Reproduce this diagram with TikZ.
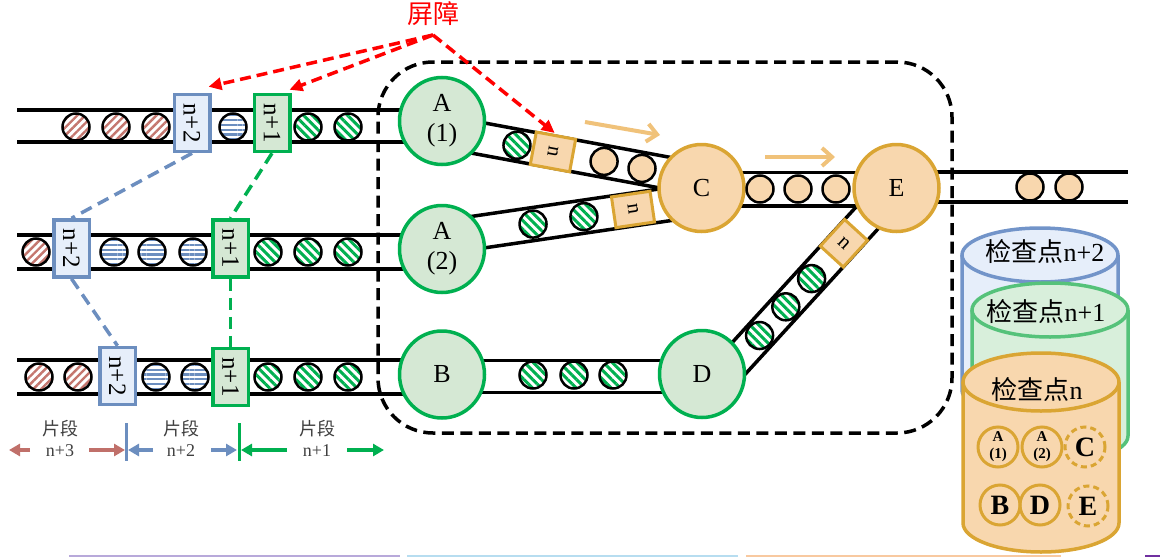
\documentclass[tikz,border=0pt]{standalone}
\usepackage{fontspec}
\setmainfont{Liberation Serif}
\newfontfamily\cjk{Noto Sans CJK SC}
\usepackage{graphicx}
\usetikzlibrary{calc,arrows.meta,patterns.meta,shapes.geometric}
\pgfdeclarelayer{bg}
\pgfsetlayers{bg,main}

\definecolor{cgreen}{HTML}{00B050}
\definecolor{lgreen}{HTML}{D5E8D4}
\definecolor{cblue}{HTML}{6C8EBF}
\definecolor{lblue}{HTML}{E6EEFA}
\definecolor{corange}{HTML}{DAA533}
\definecolor{lorange}{HTML}{F8D7AE}
\definecolor{cred}{HTML}{C0706A}
\definecolor{ballred}{HTML}{C4766E}
\definecolor{arrowor}{HTML}{F0C27A}
\definecolor{cylgreen}{HTML}{55C27A}
\definecolor{cylgfill}{HTML}{D8EFDB}
\definecolor{cylblue}{HTML}{7294C9}
\definecolor{txtgray}{HTML}{404040}
\definecolor{stripP}{HTML}{B8A9DA}
\definecolor{stripB}{HTML}{B7DDF0}
\definecolor{stripO}{HTML}{F8C9A0}
\definecolor{stripD}{HTML}{7030A0}

\newcommand\setfs[2]{\fontsize{#1}{#2}\selectfont}
\newcommand\mytrack[3]{%
  \draw[track] ($(#1)!#3!90:(#2)$) -- ($(#2)!#3!-90:(#1)$);
  \draw[track] ($(#1)!#3!-90:(#2)$) -- ($(#2)!#3!90:(#1)$);}
\newcommand\mycyl[7]{%
  \fill[#7] (#1-#4,#2) -- (#1-#4,#3) arc[start angle=180,end angle=360,x radius=#4,y radius=#5] -- (#1+#4,#2) -- cycle;
  \fill[#7] (#1,#2) ellipse[x radius=#4,y radius=#5];
  \draw[#6,line width=3.5pt] (#1-#4,#2) -- (#1-#4,#3) arc[start angle=180,end angle=360,x radius=#4,y radius=#5] -- (#1+#4,#2);
  \draw[#6,line width=3.5pt] (#1,#2) ellipse[x radius=#4,y radius=#5];}

\tikzset{
  track/.style={line width=3.5pt,black},
  ball/.style={circle,draw=black,line width=2.5pt,minimum size=27pt,inner sep=0pt},
  ballR/.style={ball,preaction={fill=white},pattern={Lines[angle=45,distance=5.6pt,line width=2.4pt]},pattern color=ballred},
  ballB/.style={ball,preaction={fill=white},pattern={Lines[angle=0,distance=4.8pt,line width=2.2pt]},pattern color=cblue},
  ballG/.style={ball,preaction={fill=white},pattern={Lines[angle=-45,distance=6.2pt,line width=3pt]},pattern color=cgreen},
  ballO/.style={ball,fill=lorange},
  gnode/.style={ellipse,draw=cgreen,fill=lgreen,line width=3.5pt,minimum width=85pt,minimum height=87pt,inner sep=0pt,align=center,font=\setfs{26}{30}},
  onode/.style={gnode,draw=corange,fill=lorange},
  bbox/.style={rectangle,draw=cblue,fill=lblue,line width=3.5pt,minimum width=35.5pt,minimum height=57pt,inner sep=0pt,font=\setfs{25}{25}},
  gbox/.style={bbox,draw=cgreen,fill=lgreen},
  obox/.style={rectangle,draw=corange,fill=lorange,line width=3pt,inner sep=0pt,font=\setfs{21}{21},sloped},
  bconn/.style={cblue,line width=3.5pt,dash pattern=on 12pt off 7pt},
  gconn/.style={cgreen,line width=3.5pt,dash pattern=on 12pt off 7pt},
  redarrow/.style={red,line width=3.5pt,dash pattern=on 11pt off 6pt,-{Triangle[length=13pt,width=12pt]}},
  oarrow/.style={arrowor,line width=4pt,-{Straight Barb[length=10pt,width=18pt]}},
  segR/.style={cred,line width=4pt,-{Triangle[length=11pt,width=12pt]}},
  segB/.style={cblue,line width=4pt,-{Triangle[length=11pt,width=12pt]}},
  segG/.style={cgreen,line width=4pt,-{Triangle[length=11pt,width=12pt]}},
  lbl/.style={text=txtgray,font=\setfs{18}{18},inner sep=0pt},
  cktext/.style={font=\setfs{26}{26},inner sep=0pt},
  cc/.style={circle,draw=corange,line width=3pt,minimum size=40pt,inner sep=0pt,font=\bfseries\setfs{28}{28}},
  ccd/.style={cc,dash pattern=on 6pt off 4pt},
  cca/.style={cc,align=center,font=\bfseries\setfs{15}{17}},
}

\begin{document}
\begin{tikzpicture}[x=1pt,y=1pt]
\useasboundingbox (0,0) rectangle (1160,-557);

% faint strips at the bottom edge
\draw[stripP,line width=2pt] (69,-556) -- (400,-556);
\draw[stripB,line width=2pt] (407,-556) -- (738,-556);
\draw[stripO,line width=2pt] (746,-556) -- (1061,-556);
\draw[stripD,line width=2pt] (1145,-556) -- (1160,-556);

% ---- main circle nodes
\node[gnode] (A1) at (442,-121) {A\\(1)};
\node[gnode] (A2) at (442,-249) {A\\(2)};
\node[gnode] (B) at (442,-374.5) {B};
\node[onode] (C) at (701.5,-188) {C};
\node[gnode] (D) at (702,-374) {D};
\node[onode] (E) at (896.5,-188) {E};

% ---- track coordinates
\coordinate (L1) at (17,-126);   \coordinate (R1) at (442,-126);
\coordinate (L2) at (17,-252);   \coordinate (R2) at (442,-252);
\coordinate (L3) at (17,-377);   \coordinate (R3) at (442,-377);
\coordinate (ac1s) at (450,-132.85); \coordinate (ac1e) at (690,-177.3);
\coordinate (ac2s) at (450,-236.25); \coordinate (ac2e) at (690,-201.1);
\coordinate (bds) at (442,-376.5); \coordinate (bde) at (702,-376.5);
\coordinate (des) at (728.9,-369.1); \coordinate (dee) at (877.1,-206.9);
\coordinate (ces) at (701.5,-189.4); \coordinate (cee) at (896.5,-189.4);
\coordinate (eos) at (896.5,-187); \coordinate (eoe) at (1128,-187);

\begin{pgfonlayer}{bg}
  \mytrack{L1}{R1}{16pt}
  \mytrack{L2}{R2}{17pt}
  \mytrack{L3}{R3}{17pt}
  \mytrack{ac1s}{ac1e}{16pt}
  \mytrack{ac2s}{ac2e}{16.5pt}
  \mytrack{bds}{bde}{16pt}
  \mytrack{des}{dee}{15.5pt}
  \mytrack{ces}{cee}{16.7pt}
  \mytrack{eos}{eoe}{15.2pt}
\end{pgfonlayer}

% ---- left track balls and boxes
\foreach \x [count=\i] in {76,116,156} \node[ballR] (tR\i) at (\x,-127) {};
\node[ballB] (tB1) at (233,-127) {};
\foreach \x [count=\i] in {308,348} \node[ballG] (tG\i) at (\x,-127) {};
\node[ballR] (mR1) at (36,-252) {};
\foreach \x [count=\i] in {114,152,193} \node[ballB] (mB\i) at (\x,-252) {};
\foreach \x [count=\i] in {268,308,348} \node[ballG] (mG\i) at (\x,-252) {};
\foreach \x [count=\i] in {39,78} \node[ballR] (bR\i) at (\x,-377) {};
\foreach \x [count=\i] in {156,195} \node[ballB] (bB\i) at (\x,-377) {};
\foreach \x [count=\i] in {268,308,348} \node[ballG] (bG\i) at (\x,-377) {};

\node[bbox] (tb2) at (192,-123) {\rotatebox{-90}{n+2}};
\node[gbox] (tb1) at (272,-123) {\rotatebox{-90}{n+1}};
\node[bbox] (mb2) at (71.5,-248.5) {\rotatebox{-90}{n+2}};
\node[gbox] (mb1) at (230.5,-248.5) {\rotatebox{-90}{n+1}};
\node[bbox] (bb2) at (117.5,-376) {\rotatebox{-90}{n+2}};
\node[gbox] (bb1) at (230.5,-377) {\rotatebox{-90}{n+1}};

\draw[bconn] (tb2.south) -- (mb2.north);
\draw[gconn] (tb1.south) -- (mb1.north);
\draw[bconn] (mb2.south) -- (bb2.north);
\draw[gconn] (mb1.south) -- (bb1.north);

% ---- inner tracks: balls and boxes
\node[ballG] (g1) at ($(ac1s)!0.279!(ac1e)$) {};
\node[ballO] (o1) at ($(ac1s)!0.642!(ac1e)$) {};
\node[ballO] (o2) at ($(ac1s)!0.80!(ac1e)$) {};
\path (ac1s) -- (ac1e) node[obox,pos=0.429,minimum width=40pt,minimum height=33pt] (ob1) {\rotatebox{-90}{n}};

\node[ballG] (g2) at ($(ac2s)!0.346!(ac2e)$) {};
\node[ballG] (g3) at ($(ac2s)!0.558!(ac2e)$) {};
\path (ac2s) -- (ac2e) node[obox,pos=0.7625,minimum width=39pt,minimum height=31pt] (ob2) {\rotatebox{-90}{n}};

\foreach \x [count=\i] in {533,574,613} \node[ballG] (bdG\i) at (\x,-375) {};

\node[ballG] (dg1) at ($(des)!0.207!(dee)$) {};
\node[ballG] (dg2) at ($(des)!0.384!(dee)$) {};
\node[ballG] (dg3) at ($(des)!0.558!(dee)$) {};
\path (des) -- (dee) node[obox,pos=0.776,minimum width=36pt,minimum height=31pt] (ob3) {\rotatebox{-90}{n}};

\foreach \x [count=\i] in {760,798,836} \node[ballO] (ceO\i) at (\x,-189) {};
\foreach \x [count=\i] in {1030,1069} \node[ballO] (eoO\i) at (\x,-187) {};

% ---- dashed frame
\node[draw=black,line width=3.5pt,dash pattern=on 12pt off 6.5pt,rounded corners=55pt,minimum width=574pt,minimum height=371pt,inner sep=0pt] (frame) at (665,-247.5) {};

% ---- flow arrows
\coordinate (oa1s) at (585,-122); \coordinate (oa1e) at (660,-135);
\coordinate (oa2s) at (765,-157); \coordinate (oa2e) at (835,-157);
\draw[oarrow] (oa1s) -- (oa1e);
\draw[oarrow] (oa2s) -- (oa2e);

% ---- barrier label and arrows
\node[text=red,font=\cjk\setfs{26}{26},inner sep=0pt] (bartxt) at (433,-14) {屏障};
\coordinate (bar) at (433,-35);
\draw[redarrow] (bar) -- ($(tb2.north east)+(-3,6)$);
\draw[redarrow] (bar) -- ($(tb1.north east)+(-2,3)$);
\draw[redarrow,shorten >=2pt] (bar) -- (ob1.north);

% ---- segment annotations
\coordinate (tk1a) at (126,-423); \coordinate (tk1b) at (126,-461);
\coordinate (tk2a) at (239,-423); \coordinate (tk2b) at (239,-461);
\draw[cblue,line width=3pt] (tk1a) -- (tk1b);
\draw[cgreen,line width=3pt] (tk2a) -- (tk2b);
\coordinate (s1) at (30,-450);  \coordinate (s1t) at (9,-450);
\coordinate (s2) at (89,-450);  \coordinate (s2t) at (125,-450);
\coordinate (s3) at (153,-450); \coordinate (s3t) at (128,-450);
\coordinate (s4) at (211,-450); \coordinate (s4t) at (237,-450);
\coordinate (s5) at (287,-450); \coordinate (s5t) at (241,-450);
\coordinate (s6) at (347,-450); \coordinate (s6t) at (384,-450);
\draw[segR] (s1) -- (s1t);
\draw[segR] (s2) -- (s2t);
\draw[segB] (s3) -- (s3t);
\draw[segB] (s4) -- (s4t);
\draw[segG] (s5) -- (s5t);
\draw[segG] (s6) -- (s6t);
\node[lbl] (p3a) at (60,-429) {\cjk 片段};
\node[lbl] (p3b) at (60,-451) {n+3};
\node[lbl] (p2a) at (181,-429) {\cjk 片段};
\node[lbl] (p2b) at (181,-451) {n+2};
\node[lbl] (p1a) at (317,-429) {\cjk 片段};
\node[lbl] (p1b) at (317,-451) {n+1};

% ---- checkpoint cylinders
\mycyl{1040}{-255}{-390}{78}{27}{cylblue}{lblue}
\node[cktext] (ck2) at (1045,-252) {{\cjk 检查点}n+2};
\mycyl{1050}{-310}{-436}{78}{27}{cylgreen}{cylgfill}
\node[cktext] (ck1) at (1046,-312) {{\cjk 检查点}n+1};
\mycyl{1041}{-382}{-523}{78}{29}{corange}{lorange}
\node[cktext] (ck0) at (1037,-390) {{\cjk 检查点}n};

\node[cca] (cA1) at (998,-447) {A\\(1)};
\node[cca] (cA2) at (1042,-447) {A\\(2)};
\node[ccd] (cC) at (1085,-447) {C};
\node[cc] (cB) at (1000,-505) {B};
\node[cc] (cD) at (1040,-505) {D};
\node[ccd] (cE) at (1088,-506) {E};
\end{tikzpicture}
\end{document}
